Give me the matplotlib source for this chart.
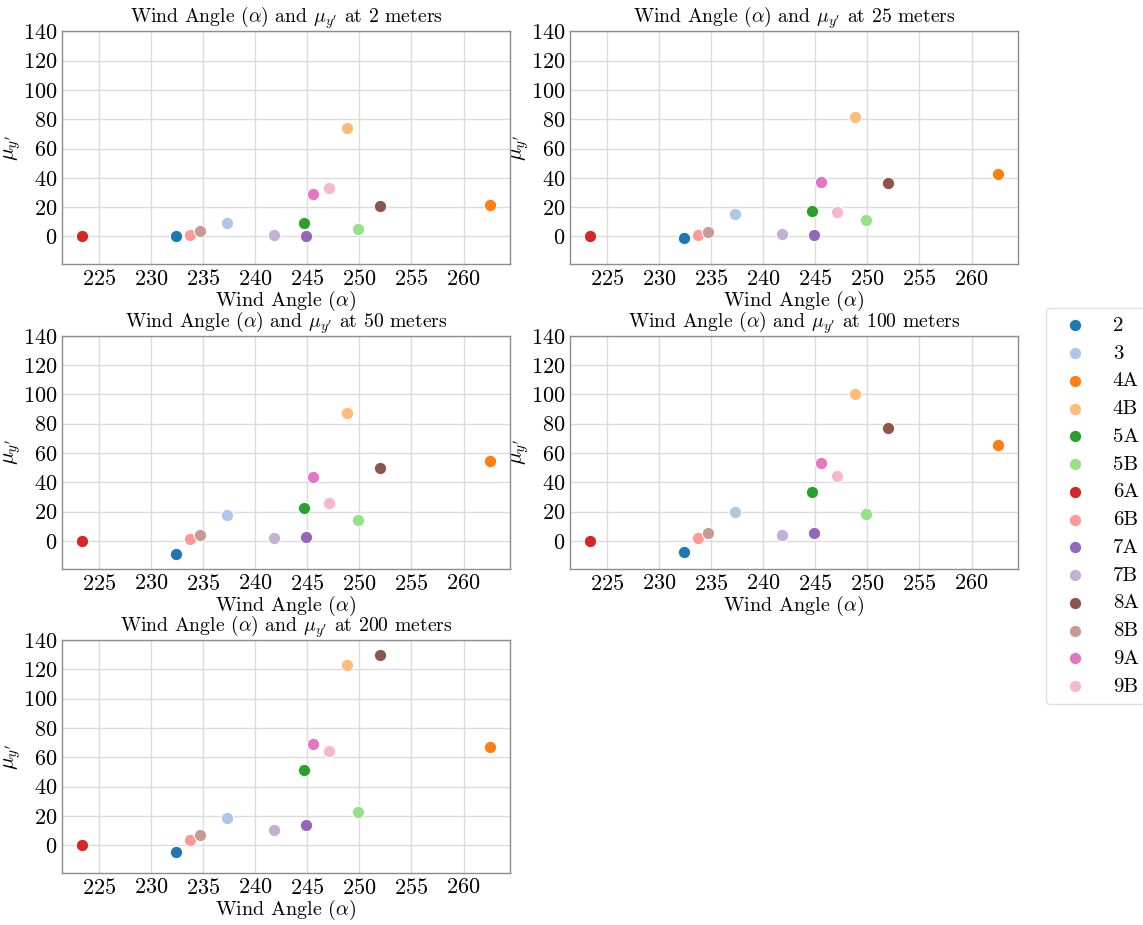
import matplotlib
matplotlib.use("Agg")
import matplotlib.pyplot as plt

plt.rcParams.update({
    "font.family": "serif",
    "font.serif": ["cmr10"],
    "mathtext.fontset": "cm",
    "axes.formatter.use_mathtext": True,
    "axes.unicode_minus": False,
    "font.size": 14,
    "xtick.labelsize": 16,
    "ytick.labelsize": 16,
    "axes.labelsize": 14.5,
    "axes.titlesize": 14.2,
    "axes.edgecolor": "#8c8c8c",
    "axes.linewidth": 1.0,
    "grid.color": "#dcdcdc",
    "grid.linewidth": 1.0,
    "xtick.major.size": 0,
    "ytick.major.size": 0,
    "axes.axisbelow": True,
})

locations = ["2", "3", "4A", "4B", "5A", "5B", "6A", "6B",
             "7A", "7B", "8A", "8B", "9A", "9B"]
wind_angle = [232.4, 237.3, 262.5, 248.8, 244.7, 249.9, 223.4, 233.7,
              244.9, 241.8, 252.0, 234.7, 245.5, 247.1]

heights = [2, 25, 50, 100, 200]
mu_y = {
    2:   [0.5, 9.1, 21.2, 74.2, 8.9, 5.3, 0.0, 0.9,
          0.5, 0.9, 20.8, 3.7, 29.2, 32.9],
    25:  [-0.9, 15.3, 42.9, 81.5, 17.4, 11.0, 0.0, 1.1,
          1.1, 1.6, 36.8, 3.4, 37.5, 16.9],
    50:  [-9.3, 17.5, 54.5, 87.3, 22.7, 13.9, 0.0, 1.4,
          2.3, 2.0, 49.8, 3.9, 43.4, 25.7],
    100: [-7.7, 20.0, 65.5, 100.2, 33.4, 18.6, 0.0, 2.0,
          5.2, 3.9, 77.3, 5.2, 53.2, 44.1],
    200: [-4.6, 18.9, 66.8, 122.9, 51.1, 23.0, 0.0, 3.4,
          13.5, 10.7, 130.2, 7.1, 69.1, 64.3],
}

colors = [plt.cm.tab20(i) for i in range(len(locations))]

fig, axes = plt.subplots(3, 2, figsize=(11.43, 9.25), dpi=100)
fig.subplots_adjust(left=0.0542, right=0.8906, top=0.966, bottom=0.0562,
                    wspace=0.134, hspace=0.307)
axes = axes.ravel()

for ax, h in zip(axes, heights):
    for loc, x, y, c in zip(locations, wind_angle, mu_y[h], colors):
        ax.scatter(x, y, s=80, color=c, edgecolor="white", linewidth=0.8,
                   label=loc, zorder=3)
    ax.grid(True)
    ax.set_ylim(-19, 140)
    ax.set_yticks(range(0, 141, 20))
    ax.set_xticks(range(225, 261, 5))
    ax.set_xlabel(r"Wind Angle ($\alpha$)", labelpad=0)
    ax.set_ylabel(r"$\mu_{y'}$", fontsize=15.5, labelpad=0)
    ax.set_title(rf"Wind Angle ($\alpha$) and $\mu_{{y'}}$ at {h} meters",
                 pad=5)

axes[-1].remove()

handles, labels = axes[0].get_legend_handles_labels()
fig.legend(handles, labels, loc="upper left",
           bbox_to_anchor=(1046 / 1143, 1 - 308 / 925),
           frameon=True, edgecolor="#d9d9d9", fontsize=15,
           labelspacing=0.44, borderaxespad=0)

plt.savefig("out.png", dpi=100)
